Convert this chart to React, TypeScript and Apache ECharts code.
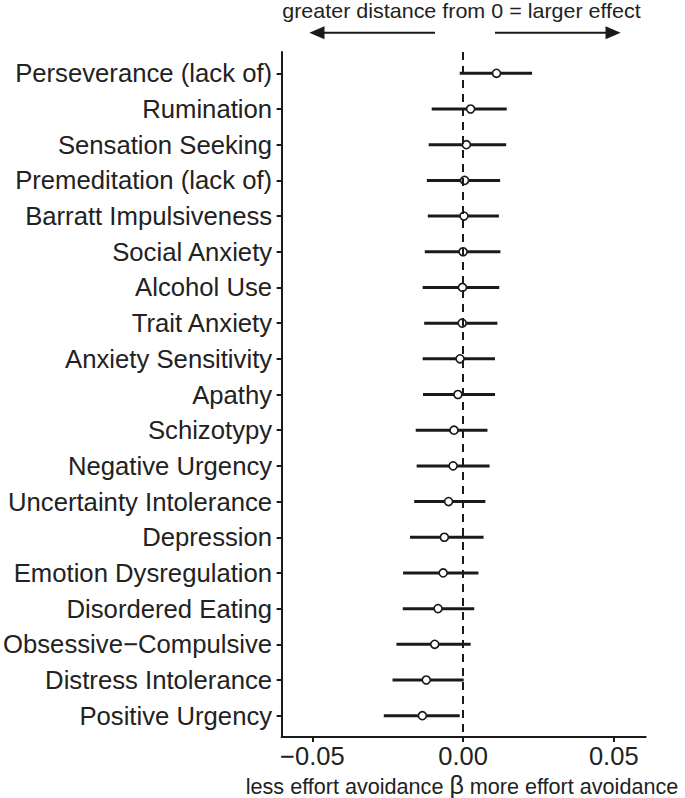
import React, { useEffect, useRef } from "react";
import * as echarts from "echarts";

const categories = [
  "Perseverance (lack of)",
  "Rumination",
  "Sensation Seeking",
  "Premeditation (lack of)",
  "Barratt Impulsiveness",
  "Social Anxiety",
  "Alcohol Use",
  "Trait Anxiety",
  "Anxiety Sensitivity",
  "Apathy",
  "Schizotypy",
  "Negative Urgency",
  "Uncertainty Intolerance",
  "Depression",
  "Emotion Dysregulation",
  "Disordered Eating",
  "Obsessive\u2212Compulsive",
  "Distress Intolerance",
  "Positive Urgency",
];

const estimates = [
  0.0111, 0.0025, 0.0011, 0.0005, 0.0003, 0.0, -0.0002, -0.0003, -0.001, -0.0017,
  -0.003, -0.0033, -0.0048, -0.0062, -0.0066, -0.0083, -0.0094, -0.0122, -0.0135,
];
const lower = [
  -0.0011, -0.0104, -0.0114, -0.012, -0.0117, -0.0127, -0.0134, -0.0129, -0.0134, -0.0133,
  -0.0157, -0.0154, -0.0162, -0.0176, -0.0199, -0.02, -0.0221, -0.0234, -0.0263,
];
const upper = [
  0.0229, 0.0145, 0.0143, 0.0123, 0.0119, 0.0124, 0.012, 0.0114, 0.0106, 0.0106,
  0.0081, 0.0088, 0.0074, 0.0068, 0.0051, 0.0037, 0.0025, 0.0002, -0.0011,
];
const xTicks = [-0.05, 0, 0.05];

const FONT = "'Liberation Sans', Arial, Helvetica, sans-serif";
const INK = "#1a1a1a";

export default function App() {
  const ref = useRef<HTMLDivElement>(null);
  useEffect(() => {
    if (!ref.current) return;
    const chart = echarts.init(ref.current, null, { renderer: "svg" });
    const idx = categories.map((_, i) => i);
    const barData = categories.map((_, i) => [lower[i], upper[i], estimates[i], i]);
    const pointData = categories.map((_, i) => [estimates[i], i]);

    const arrowY = 32.7;
    chart.setOption({
      animation: false,
      backgroundColor: "#ffffff",
      grid: { left: 279.5, right: 39.3, top: 51.9, bottom: 60.9, containLabel: false },
      xAxis: {
        type: "value",
        min: -0.0602,
        max: 0.0606,
        axisLine: { show: true, onZero: false, lineStyle: { color: INK, width: 2 } },
        axisTick: { show: true, customValues: xTicks, length: 5, lineStyle: { color: INK, width: 2 } },
        axisLabel: {
          customValues: xTicks,
          formatter: (v: number) => (v < 0 ? "\u2212" + Math.abs(v).toFixed(2) : v.toFixed(2)),
          fontSize: 25.5,
          lineHeight: 25.5,
          fontFamily: FONT,
          color: "#222",
          margin: 6.3,
        },
        splitLine: { show: false },
      },
      yAxis: {
        type: "value",
        inverse: true,
        min: -0.6,
        max: 18.6,
        axisLine: { show: true, onZero: false, lineStyle: { color: INK, width: 2 } },
        axisTick: { show: true, customValues: idx, length: 5, lineStyle: { color: INK, width: 2 } },
        axisLabel: {
          customValues: idx,
          formatter: (v: number) => categories[Math.round(v)] ?? "",
          fontSize: 25.7,
          fontFamily: FONT,
          color: "#222",
          margin: 9.5,
        },
        splitLine: { show: false },
      },
      series: [
        {
          type: "custom",
          z: 2,
          data: barData,
          encode: { x: [0, 1], y: 3 },
          renderItem: (params: any, api: any) => {
            const a = api.coord([api.value(0), api.value(3)]);
            const b = api.coord([api.value(1), api.value(3)]);
            return {
              type: "line",
              shape: { x1: a[0], y1: a[1], x2: b[0], y2: b[1] },
              style: { stroke: INK, lineWidth: 3 },
            };
          },
          markLine: {
            silent: true,
            symbol: "none",
            label: { show: false },
            lineStyle: { color: INK, width: 2, type: [8, 6] },
            data: [{ xAxis: 0 }],
          },
        },
        {
          type: "scatter",
          z: 3,
          data: pointData,
          symbol: "circle",
          symbolSize: 8,
          itemStyle: { color: "#ffffff", borderColor: INK, borderWidth: 1.6, opacity: 1 },
        },
      ],
      graphic: [
        {
          type: "text",
          x: 461.5,
          y: 10.5,
          scaleX: 1.075,
          style: {
            text: "greater distance from 0 = larger effect",
            fontSize: 20,
            lineHeight: 20,
            fontFamily: FONT,
            fill: "#222",
            align: "center",
            verticalAlign: "middle",
          },
        },
        {
          type: "line",
          shape: { x1: 320, y1: arrowY, x2: 435, y2: arrowY },
          style: { stroke: INK, lineWidth: 2 },
        },
        {
          type: "polygon",
          shape: { points: [[309.3, arrowY], [324.5, arrowY - 6.5], [324.5, arrowY + 6.5]] },
          style: { fill: INK },
        },
        {
          type: "line",
          shape: { x1: 495, y1: arrowY, x2: 610, y2: arrowY },
          style: { stroke: INK, lineWidth: 2 },
        },
        {
          type: "polygon",
          shape: { points: [[620.7, arrowY], [605.5, arrowY - 6.5], [605.5, arrowY + 6.5]] },
          style: { fill: INK },
        },
        {
          type: "text",
          x: 462,
          y: 785.5,
          style: {
            text: "{a|less effort avoidance }{b|\u03b2}{a| more effort avoidance}",
            align: "center",
            verticalAlign: "middle",
            rich: {
              a: { fontSize: 21.6, lineHeight: 21.6, fontFamily: FONT, fill: "#222", verticalAlign: "bottom" },
              b: { fontSize: 25, lineHeight: 24, fontFamily: FONT, fill: "#222", verticalAlign: "bottom" },
            },
          },
        },
      ],
    });
    return () => chart.dispose();
  }, []);
  return (
    <div
      ref={ref}
      style={{ position: "absolute", left: 0, top: 0, width: 685, height: 798, background: "#fff" }}
    />
  );
}
